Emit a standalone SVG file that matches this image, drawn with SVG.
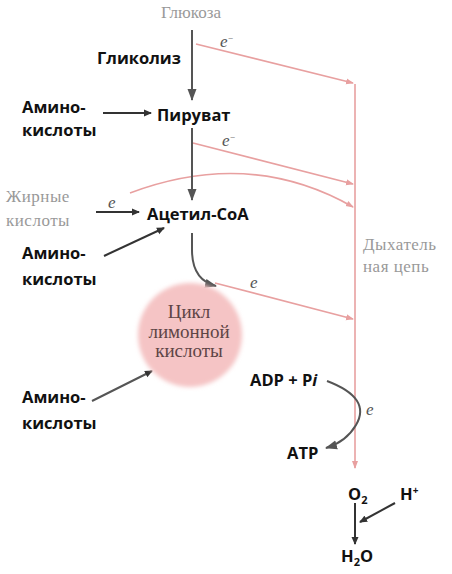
<svg xmlns="http://www.w3.org/2000/svg" width="452" height="574" viewBox="0 0 452 574">
<defs>
<style>
.b{font-family:"Open Sans","Liberation Sans",sans-serif;font-weight:700;font-size:16.5px;fill:#111}
.g{font-family:"Liberation Serif",serif;font-size:17px;fill:#999}
.e{font-family:"Liberation Serif",serif;font-style:italic;font-size:17px;fill:#555}
.c{font-family:"Liberation Serif",serif;font-size:19px;fill:#5e4545;text-anchor:middle}
.k{stroke:#333;stroke-width:2;fill:none}
.kg{stroke:#555;stroke-width:2;fill:none}
.r{stroke:#e8a0a0;stroke-width:1.6;fill:none}
</style>
<marker id="ak" markerWidth="8" markerHeight="8" refX="7" refY="4" orient="auto" markerUnits="userSpaceOnUse" viewBox="0 0 8 8"><path d="M0,0.5 L8,4 L0,7.5 Z" fill="#333"/></marker>
<marker id="akl" markerWidth="12" markerHeight="10" refX="11" refY="5" orient="auto" markerUnits="userSpaceOnUse" viewBox="0 0 12 10"><path d="M0,0.5 L12,5 L0,9.5 Z" fill="#555"/></marker>
<marker id="ar" markerWidth="8" markerHeight="8" refX="7" refY="4" orient="auto" markerUnits="userSpaceOnUse" viewBox="0 0 8 8"><path d="M0,1 L8,4 L0,7 Z" fill="#e8a0a0"/></marker>
<filter id="bl" x="-20%" y="-20%" width="140%" height="140%"><feGaussianBlur stdDeviation="2"/></filter>
</defs>

<g id="connectors">
<line class="r" x1="355" y1="84" x2="355" y2="468" marker-end="url(#ar)"/>
<line class="r" x1="196" y1="44" x2="353" y2="83" marker-end="url(#ar)"/>
<line class="r" x1="193" y1="143" x2="353" y2="184" marker-end="url(#ar)"/>
<path class="r" d="M130,193 Q250,148 353,207" marker-end="url(#ar)"/>
<line class="r" x1="215" y1="283" x2="353" y2="319" marker-end="url(#ar)"/>
<line class="kg" x1="192" y1="30" x2="192" y2="100" marker-end="url(#akl)"/>
<line class="kg" x1="192" y1="128" x2="192" y2="200" marker-end="url(#akl)"/>
<path class="kg" d="M192,233 L192,250 Q192,280 216,286" marker-end="url(#akl)"/>
<line class="k" x1="103" y1="113" x2="151" y2="113" marker-end="url(#ak)"/>
<line class="k" x1="96" y1="212" x2="139" y2="212" marker-end="url(#ak)"/>
<line class="k" x1="104" y1="256" x2="164" y2="228" marker-end="url(#ak)"/>
<line class="kg" x1="92" y1="401" x2="152" y2="371" marker-end="url(#ak)"/>
<path class="kg" d="M327,381 Q372,398 356,425 Q346,442 326,448" marker-end="url(#akl)"/>
<line class="k" x1="355" y1="503" x2="355" y2="544" marker-end="url(#ak)"/>
<line class="k" x1="395" y1="503" x2="360" y2="522" marker-end="url(#ak)"/>
</g>

<g id="e-labels">
<text class="e" x="220" y="47">e<tspan font-size="9" dy="-6">−</tspan></text>
<text class="e" x="222" y="146">e<tspan font-size="9" dy="-6">−</tspan></text>
<text class="e" x="108" y="208">e</text>
<text class="e" x="250" y="288">e</text>
<text class="e" x="366" y="415">e</text>
</g>

<g id="glucose"><text class="g" x="191" y="18" text-anchor="middle">Глюкоза</text></g>
<g id="glycolysis"><text class="b" x="97" y="64">Гликолиз</text></g>
<g id="amino1"><text class="b" x="22" y="113">Амино-</text><text class="b" x="22" y="136">кислоты</text></g>
<g id="pyruvate"><text class="b" x="157" y="121">Пируват</text></g>
<g id="fatty"><text class="g" x="6" y="202" letter-spacing="0.5">Жирные</text><text class="g" x="6" y="226" letter-spacing="0.5">кислоты</text></g>
<g id="acetyl"><text class="b" x="147" y="220">Ацетил-CoA</text></g>
<g id="amino2"><text class="b" x="22" y="259">Амино-</text><text class="b" x="22" y="285">кислоты</text></g>
<g id="cycle">
<circle cx="190" cy="335" r="52" fill="#f5c4c5" filter="url(#bl)"/>
<text class="c" x="189" y="318">Цикл</text>
<text class="c" x="189" y="338">лимонной</text>
<text class="c" x="189" y="357">кислоты</text>
</g>
<g id="amino3"><text class="b" x="22" y="403">Амино-</text><text class="b" x="22" y="429">кислоты</text></g>
<g id="chain"><text class="g" x="363" y="250" letter-spacing="0.5">Дыхатель</text><text class="g" x="363" y="272" letter-spacing="0.5">ная цепь</text></g>
<g id="adp"><text class="b" x="250" y="386">ADP + P<tspan font-style="italic">i</tspan></text></g>
<g id="atp"><text class="b" x="287" y="459">ATP</text></g>
<g id="o2"><text class="b" x="348" y="500">O<tspan font-size="11" dy="4">2</tspan></text></g>
<g id="hplus"><text class="b" x="400" y="500">H<tspan font-size="10" dy="-6">+</tspan></text></g>
<g id="h2o"><text class="b" x="341" y="562">H<tspan font-size="11" dy="4">2</tspan><tspan dy="-4">O</tspan></text></g>
</svg>
